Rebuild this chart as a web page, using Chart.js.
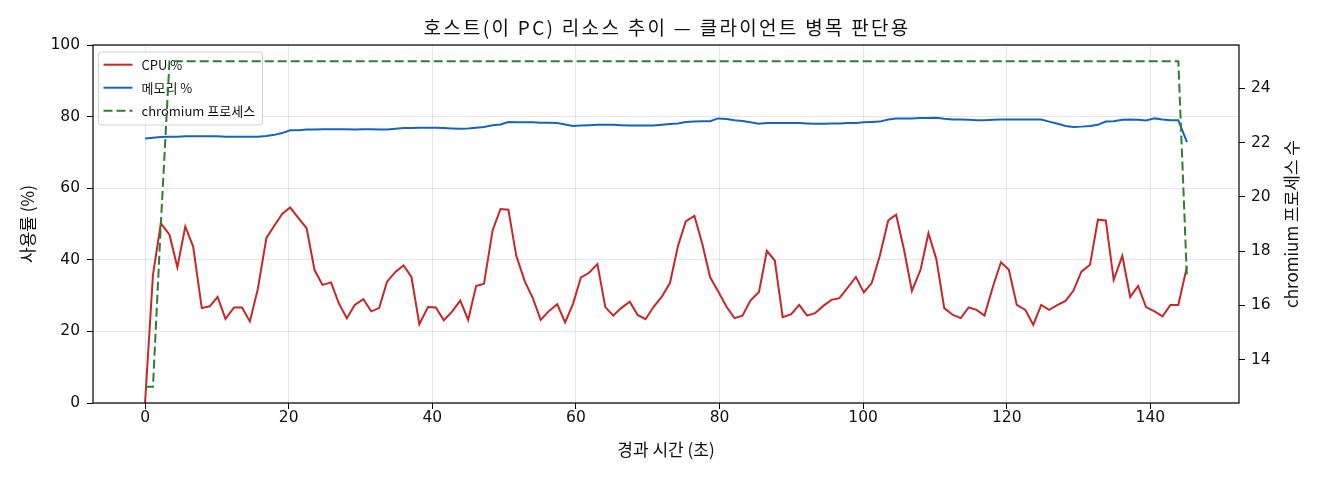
<!DOCTYPE html>
<html>
<head>
<meta charset="utf-8">
<script src="https://cdn.jsdelivr.net/npm/chart.js@4.4.1/dist/chart.umd.min.js"></script>
<style>
html,body{margin:0;padding:0;background:#ffffff;}
#wrap{width:1320px;height:480px;position:relative;}
</style>
</head>
<body>
<div id="wrap"><canvas id="c" width="1320" height="480"></canvas></div>
<script>
// ---- data ----
const elapsedSec = [
  0.0, 1.1, 2.2, 3.4, 4.5, 5.6, 6.7, 7.9, 9.0, 10.1,
  11.2, 12.4, 13.5, 14.6, 15.7, 16.9, 18.0, 19.1, 20.2, 21.4,
  22.5, 23.6, 24.7, 25.9, 27.0, 28.1, 29.2, 30.4, 31.5, 32.6,
  33.7, 34.9, 36.0, 37.1, 38.2, 39.4, 40.5, 41.6, 42.7, 43.9,
  45.0, 46.1, 47.2, 48.4, 49.5, 50.6, 51.7, 52.9, 54.0, 55.1,
  56.2, 57.4, 58.5, 59.6, 60.7, 61.8, 63.0, 64.1, 65.2, 66.3,
  67.5, 68.6, 69.7, 70.8, 72.0, 73.1, 74.2, 75.3, 76.5, 77.6,
  78.7, 79.8, 81.0, 82.1, 83.2, 84.3, 85.5, 86.6, 87.7, 88.8,
  90.0, 91.1, 92.2, 93.3, 94.5, 95.6, 96.7, 97.8, 99.0, 100.1,
  101.2, 102.3, 103.5, 104.6, 105.7, 106.8, 108.0, 109.1, 110.2, 111.3,
  112.5, 113.6, 114.7, 115.8, 116.9, 118.1, 119.2, 120.3, 121.4, 122.6,
  123.7, 124.8, 125.9, 127.1, 128.2, 129.3, 130.4, 131.6, 132.7, 133.8,
  134.9, 136.1, 137.2, 138.3, 139.4, 140.6, 141.7, 142.8, 143.9, 145.1
];
const cpuPct = [
  0, 35.8, 50.2, 47.0, 37.9, 49.3, 43.7, 26.5, 27.0, 29.6,
  23.5, 26.7, 26.7, 22.8, 31.8, 46.1, 49.5, 52.8, 54.6, 51.6,
  48.8, 37.2, 33.0, 33.7, 27.8, 23.7, 27.4, 29.0, 25.6, 26.5,
  33.9, 36.7, 38.4, 35.2, 22.0, 26.8, 26.7, 23.1, 25.4, 28.6,
  23.2, 32.7, 33.3, 48.2, 54.2, 54.0, 41.1, 33.9, 29.3, 23.2,
  25.6, 27.6, 22.5, 27.7, 35.1, 36.3, 38.8, 26.8, 24.4, 26.5,
  28.3, 24.6, 23.4, 26.8, 29.8, 33.5, 43.7, 50.7, 52.3, 44.5,
  35.1, 31.2, 26.8, 23.7, 24.4, 28.6, 31.0, 42.5, 39.8, 24.0,
  24.8, 27.4, 24.4, 25.1, 27.2, 28.8, 29.3, 32.1, 35.2, 30.9,
  33.5, 40.9, 51.0, 52.6, 42.8, 31.3, 37.2, 47.4, 40.2, 26.5,
  24.6, 23.7, 26.7, 26.0, 24.4, 32.6, 39.3, 37.2, 27.4, 26.0,
  21.8, 27.4, 26.0, 27.4, 28.5, 31.4, 36.7, 38.6, 51.2, 51.0,
  34.4, 41.1, 29.6, 32.7, 26.8, 25.6, 24.2, 27.4, 27.4, 38.1
];
const memPct = [
  73.9, 74.1, 74.3, 74.4, 74.4, 74.5, 74.5, 74.5, 74.5, 74.5,
  74.4, 74.4, 74.4, 74.4, 74.4, 74.6, 74.9, 75.4, 76.2, 76.2,
  76.4, 76.4, 76.5, 76.5, 76.5, 76.5, 76.4, 76.5, 76.5, 76.4,
  76.4, 76.6, 76.8, 76.8, 76.9, 76.9, 76.9, 76.8, 76.7, 76.6,
  76.7, 76.9, 77.1, 77.6, 77.8, 78.5, 78.4, 78.4, 78.4, 78.3,
  78.3, 78.2, 77.8, 77.4, 77.5, 77.6, 77.7, 77.7, 77.7, 77.6,
  77.5, 77.5, 77.5, 77.5, 77.7, 77.9, 78.1, 78.5, 78.6, 78.7,
  78.7, 79.5, 79.3, 79.0, 78.8, 78.4, 78.0, 78.2, 78.2, 78.2,
  78.2, 78.2, 78.1, 78.0, 78.0, 78.1, 78.1, 78.2, 78.2, 78.4,
  78.5, 78.6, 79.2, 79.5, 79.5, 79.5, 79.6, 79.6, 79.7, 79.4,
  79.2, 79.2, 79.1, 79.0, 79.0, 79.1, 79.2, 79.2, 79.2, 79.2,
  79.2, 79.2, 78.6, 78.0, 77.4, 77.1, 77.2, 77.4, 77.7, 78.6,
  78.7, 79.1, 79.2, 79.1, 78.9, 79.5, 79.2, 79.0, 79.0, 72.9
];
const chromiumProcs = [
  13, 13, 19, 25, 25, 25, 25, 25, 25, 25,
  25, 25, 25, 25, 25, 25, 25, 25, 25, 25,
  25, 25, 25, 25, 25, 25, 25, 25, 25, 25,
  25, 25, 25, 25, 25, 25, 25, 25, 25, 25,
  25, 25, 25, 25, 25, 25, 25, 25, 25, 25,
  25, 25, 25, 25, 25, 25, 25, 25, 25, 25,
  25, 25, 25, 25, 25, 25, 25, 25, 25, 25,
  25, 25, 25, 25, 25, 25, 25, 25, 25, 25,
  25, 25, 25, 25, 25, 25, 25, 25, 25, 25,
  25, 25, 25, 25, 25, 25, 25, 25, 25, 25,
  25, 25, 25, 25, 25, 25, 25, 25, 25, 25,
  25, 25, 25, 25, 25, 25, 25, 25, 25, 25,
  25, 25, 25, 25, 25, 25, 25, 25, 25, 17
];
const xTickValues = [0, 20, 40, 60, 80, 100, 120, 140];
const leftTickValues = [0, 20, 40, 60, 80, 100];
const rightTickValues = [14, 16, 18, 20, 22, 24];
const seriesLabels = ['CPU %', '메모리 %', 'chromium 프로세스'];
const titleText = '호스트(이 PC) 리소스 추이 — 클라이언트 병목 판단용';
const xTitleText = '경과 시간 (초)';
const yLeftTitleText = '사용률 (%)';
const yRightTitleText = 'chromium 프로세스 수';

// ---- styling ----
const FONT = '"Noto Sans CJK KR", "Noto Sans", sans-serif';
const TICKFONT = '"DejaVu Sans", "Noto Sans CJK KR", sans-serif';
const TEXT = '#111111';
const GRID = 'rgba(176,176,176,0.32)';
const COLORS = ['#c62828', '#1565c0', '#2e7d32'];
const DASHES = [[], [], [9, 4]];

const toPoints = ys => elapsedSec.map((x, i) => ({ x: x, y: ys[i] }));
const setTicks = vals => scale => { scale.ticks = vals.map(v => ({ value: v })); };

const overlayPlugin = {
  id: 'overlay',
  beforeDatasetDraw(chart, args) {
    if (args.index !== 2) return;
    // legend (belongs to the lower axes, drawn under the chromium line)
    const ctx = chart.ctx;
    const a = chart.chartArea;
    const bx = a.left + 5.5, by = a.top + 7, bw = 164, bh = 73, r = 3;
    ctx.save();
    ctx.beginPath();
    ctx.moveTo(bx + r, by);
    ctx.arcTo(bx + bw, by, bx + bw, by + bh, r);
    ctx.arcTo(bx + bw, by + bh, bx, by + bh, r);
    ctx.arcTo(bx, by + bh, bx, by, r);
    ctx.arcTo(bx, by, bx + bw, by, r);
    ctx.closePath();
    ctx.fillStyle = 'rgba(255,255,255,0.8)';
    ctx.fill();
    ctx.strokeStyle = 'rgba(204,204,204,0.9)';
    ctx.lineWidth = 1;
    ctx.stroke();
    ctx.font = '13px ' + FONT;
    ctx.textBaseline = 'middle';
    ctx.textAlign = 'left';
    chart.data.datasets.forEach((ds, i) => {
      const y = by + 12.7 + i * 23;
      ctx.beginPath();
      ctx.setLineDash(DASHES[i]);
      ctx.strokeStyle = ds.borderColor;
      ctx.lineWidth = 2;
      ctx.moveTo(bx + 5, y);
      ctx.lineTo(bx + 34, y);
      ctx.stroke();
      ctx.setLineDash([]);
      ctx.fillStyle = TEXT;
      ctx.fillText(ds.label, bx + 43, y);
    });
    ctx.restore();
  },
  afterDatasetsDraw(chart) {
    const ctx = chart.ctx;
    const a = chart.chartArea;
    ctx.save();
    ctx.strokeStyle = '#000';
    ctx.lineWidth = 1.2;
    ctx.strokeRect(a.left, a.top, a.right - a.left, a.bottom - a.top);
    ctx.restore();
  },
  afterDraw(chart) {
    const ctx = chart.ctx;
    const a = chart.chartArea;
    ctx.save();
    ctx.fillStyle = TEXT;
    ctx.textAlign = 'center';
    ctx.textBaseline = 'middle';
    ctx.font = '19px ' + FONT;
    if ('letterSpacing' in ctx) ctx.letterSpacing = '2.3px';
    ctx.fillText(titleText, (a.left + a.right) / 2 + 1, 28);
    if ('letterSpacing' in ctx) ctx.letterSpacing = '0px';
    ctx.translate(1292, (a.top + a.bottom) / 2);
    ctx.rotate(-Math.PI / 2);
    ctx.font = '17px ' + FONT;
    ctx.fillText(yRightTitleText, 0, 0);
    ctx.restore();
  }
};

new Chart(document.getElementById('c'), {
  type: 'line',
  data: {
    datasets: [
      { label: seriesLabels[0], data: toPoints(cpuPct), borderColor: COLORS[0], borderWidth: 2,
        pointRadius: 0, tension: 0, fill: false, yAxisID: 'y', order: 2 },
      { label: seriesLabels[1], data: toPoints(memPct), borderColor: COLORS[1], borderWidth: 2,
        pointRadius: 0, tension: 0, fill: false, yAxisID: 'y', order: 1 },
      { label: seriesLabels[2], data: toPoints(chromiumProcs), borderColor: COLORS[2], borderWidth: 2,
        borderDash: DASHES[2], pointRadius: 0, tension: 0, fill: false, yAxisID: 'y2', order: 0 }
    ]
  },
  options: {
    responsive: false,
    animation: false,
    devicePixelRatio: 1,
    layout: { padding: { top: 45, left: 0, right: 0, bottom: 0 } },
    plugins: { legend: { display: false }, title: { display: false }, tooltip: { enabled: false } },
    scales: {
      x: {
        type: 'linear', position: 'bottom', min: -7.25, max: 152.35,
        afterBuildTicks: setTicks(xTickValues),
        afterFit: s => { s.height = 77; },
        grid: { color: GRID, lineWidth: 1, tickColor: '#000', tickLength: 6, drawTicks: true },
        border: { display: false },
        ticks: { color: TEXT, font: { family: TICKFONT, size: 15.5 }, padding: 0, maxRotation: 0, autoSkip: false },
        title: { display: true, text: xTitleText, color: TEXT, font: { family: FONT, size: 17 },
                 padding: { top: 0, bottom: 20 } }
      },
      y: {
        type: 'linear', position: 'left', min: 0, max: 100,
        afterBuildTicks: setTicks(leftTickValues),
        afterFit: s => { s.width = 93; },
        grid: { color: GRID, lineWidth: 1, tickColor: '#000', tickLength: 6, drawTicks: true },
        border: { display: false },
        ticks: { color: TEXT, font: { family: TICKFONT, size: 15.5 }, padding: 7, autoSkip: false },
        title: { display: true, text: yLeftTitleText, color: TEXT, font: { family: FONT, size: 17 },
                 padding: { top: 17, bottom: 0 } }
      },
      y2: {
        type: 'linear', position: 'right', min: 12.4, max: 25.6,
        afterBuildTicks: setTicks(rightTickValues),
        afterFit: s => { s.width = 81; },
        grid: { drawOnChartArea: false, tickColor: '#000', tickLength: 6, drawTicks: true },
        border: { display: false },
        ticks: { color: TEXT, font: { family: TICKFONT, size: 15.5 }, padding: 6, autoSkip: false },
        title: { display: false }
      }
    }
  },
  plugins: [overlayPlugin]
});
</script>
</body>
</html>
